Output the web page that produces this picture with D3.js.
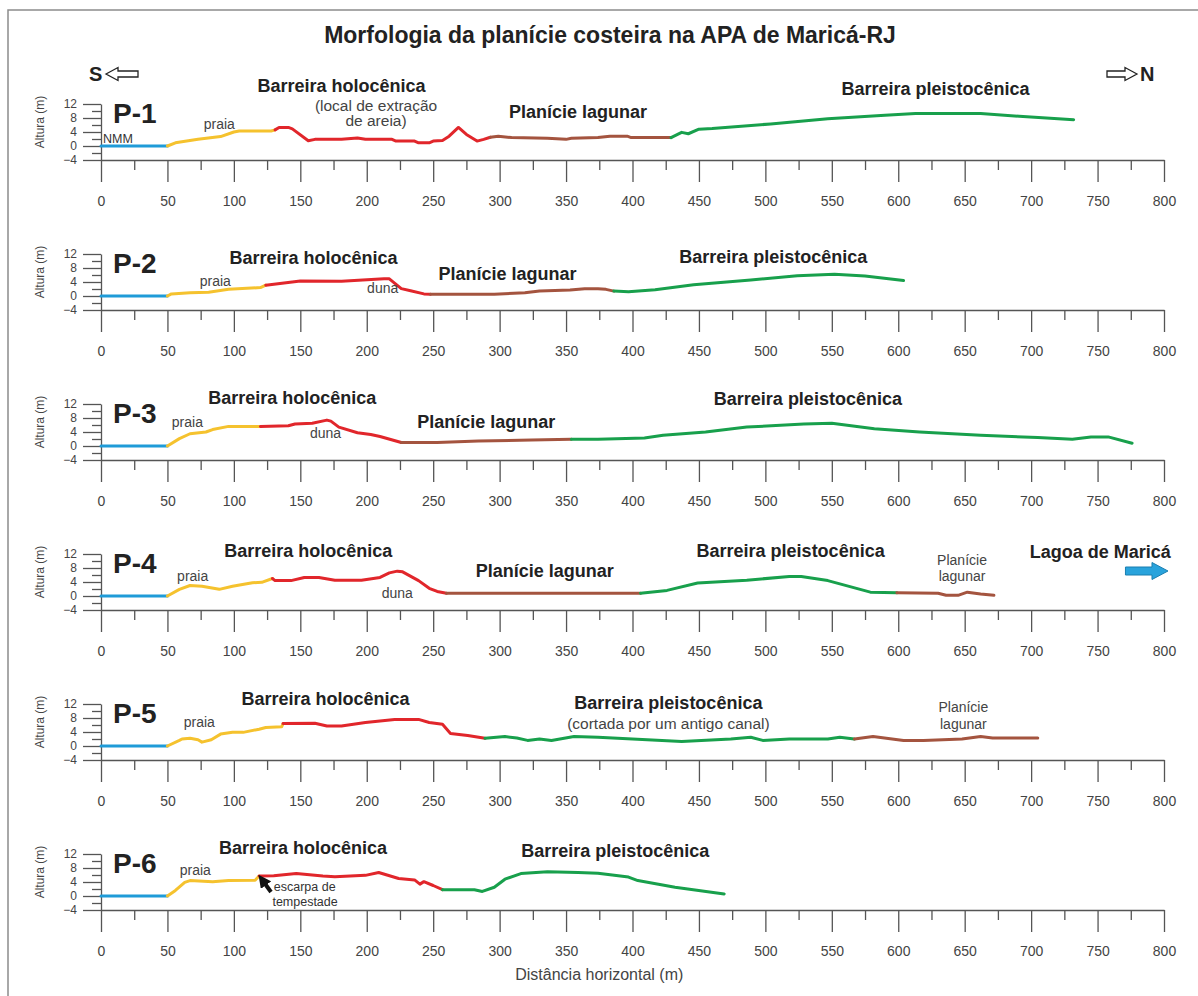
<!DOCTYPE html>
<html>
<head>
<meta charset="utf-8">
<script src="https://cdn.jsdelivr.net/npm/d3@7"></script>
<style>
body { margin: 0; background: #fff; }
svg { display: block; font-family: "Liberation Sans", Arial, Helvetica, sans-serif; }
</style>
</head>
<body>
<svg id="chart" width="1198" height="996"></svg>
<script>
// ---- data ----
const distTicks = d3.range(0, 801, 50);
const distMinor = d3.range(25, 800, 50);
const altTicks = [12, 8, 4, 0, -4];
const altMinor = [10, 6, 2, -2];
const profileNames = ["P-1", "P-2", "P-3", "P-4", "P-5", "P-6"];

const zoneColors = {
  nmm: "#1f9bd8",
  praia: "#f5c22e",
  holo: "#e1262b",
  lagunar: "#a4543f",
  pleisto: "#18a04c"
};

// [zone, [[distance m, altitude m], ...]]
const p1 = [
  ["nmm", [[0, 0], [50, 0]]],
  ["praia", [[50, 0], [56, 0.9], [73, 1.9], [90, 2.7], [100, 4.0], [104, 4.3], [128, 4.3], [131, 4.6]]],
  ["holo", [[131, 4.6], [134, 5.3], [141, 5.3], [144, 4.9], [156, 1.5], [161, 1.9], [181, 1.9], [193, 2.3], [199, 1.9],
            [219, 1.9], [222, 1.4], [236, 1.4], [239, 0.9], [247, 0.9], [250, 1.4], [257, 1.6], [262, 2.8], [269, 5.3],
            [275, 3.3], [283, 1.4], [288, 1.9], [293, 2.5]]],
  ["lagunar", [[293, 2.5], [299, 2.8], [309, 2.4], [336, 2.2], [350, 1.9], [354, 2.2], [374, 2.4], [383, 2.8], [396, 2.8],
               [399, 2.4], [429, 2.4]]],
  ["pleisto", [[429, 2.4], [437, 3.9], [442, 3.5], [450, 4.8], [460, 5.0], [504, 6.3], [547, 7.8], [590, 8.8], [613, 9.3],
               [662, 9.3], [691, 8.5], [732, 7.5]]]
];
const p2 = [
  ["nmm", [[0, 0], [50, 0]]],
  ["praia", [[50, 0], [53, 0.6], [67, 0.9], [81, 1.1], [96, 1.9], [120, 2.4], [124, 3.1]]],
  ["holo", [[124, 3.1], [150, 4.3], [181, 4.2], [213, 4.9], [217, 4.9], [226, 2.1], [233, 1.5], [243, 0.6], [248, 0.5]]],
  ["lagunar", [[248, 0.5], [296, 0.5], [319, 0.9], [330, 1.4], [353, 1.7], [364, 2.1], [374, 2.1], [380, 1.9], [386, 1.4]]],
  ["pleisto", [[386, 1.4], [397, 1.2], [417, 1.8], [446, 3.2], [489, 4.6], [524, 5.8], [552, 6.2], [575, 5.7], [604, 4.4]]]
];
const p3 = [
  ["nmm", [[0, 0], [50, 0]]],
  ["praia", [[50, 0], [59, 2.1], [67, 3.5], [79, 4.0], [84, 4.7], [96, 5.6], [120, 5.6]]],
  ["holo", [[120, 5.6], [141, 5.8], [146, 6.3], [159, 6.5], [170, 7.4], [173, 7.1], [179, 5.4], [193, 3.8], [203, 3.3],
            [210, 2.7], [226, 1.0]]],
  ["lagunar", [[226, 1.0], [253, 1.0], [284, 1.4], [324, 1.7], [354, 1.9]]],
  ["pleisto", [[354, 1.9], [374, 1.9], [409, 2.3], [423, 3.1], [455, 4.0], [486, 5.4], [529, 6.3], [550, 6.5], [582, 4.9],
               [616, 4.0], [662, 3.1], [705, 2.4], [731, 1.9], [745, 2.6], [758, 2.6], [776, 0.8]]]
];
const p4 = [
  ["nmm", [[0, 0], [50, 0]]],
  ["praia", [[50, 0], [59, 1.9], [67, 3.0], [76, 2.8], [89, 1.9], [99, 2.8], [114, 3.8], [121, 3.9], [129, 5.0]]],
  ["holo", [[129, 5.0], [131, 4.4], [143, 4.4], [153, 5.3], [164, 5.3], [176, 4.5], [196, 4.5], [210, 5.3], [217, 6.6],
            [223, 7.1], [227, 6.9], [239, 4.4], [247, 2.2], [253, 1.3], [260, 0.8]]],
  ["lagunar", [[260, 0.8], [406, 0.8]]],
  ["pleisto", [[406, 0.8], [426, 1.6], [449, 3.7], [486, 4.5], [518, 5.6], [527, 5.6], [547, 4.4], [579, 1.1], [599, 0.9]]],
  ["lagunar", [[599, 0.9], [630, 0.8], [636, 0.2], [645, 0.2], [652, 1.1], [662, 0.6], [672, 0.2]]]
];
const p5 = [
  ["nmm", [[0, 0], [50, 0]]],
  ["praia", [[50, 0], [59, 1.6], [61, 2.0], [67, 2.2], [73, 1.8], [76, 1.1], [83, 1.8], [90, 3.4], [99, 3.9], [107, 3.9],
             [119, 4.8], [124, 5.3], [136, 5.5], [137, 6.4]]],
  ["holo", [[137, 6.4], [161, 6.5], [170, 5.7], [181, 5.7], [199, 6.7], [221, 7.6], [239, 7.6], [247, 6.7], [257, 6.2],
            [263, 3.6], [276, 3.0], [289, 2.2]]],
  ["pleisto", [[289, 2.2], [304, 2.7], [313, 2.3], [321, 1.6], [330, 2.0], [339, 1.6], [356, 2.7], [374, 2.5], [400, 2.0],
               [437, 1.3], [474, 2.0], [489, 2.5], [498, 1.6], [518, 2.0], [547, 2.0], [556, 2.5], [567, 2.0]]],
  ["lagunar", [[567, 2.0], [581, 2.7], [604, 1.6], [619, 1.6], [648, 2.0], [662, 2.7], [671, 2.3], [705, 2.3]]]
];
const p6 = [
  ["nmm", [[0, 0], [50, 0]]],
  ["praia", [[50, 0], [56, 1.6], [63, 3.9], [67, 4.4], [84, 4.1], [96, 4.4], [116, 4.5], [119, 5.7]]],
  ["holo", [[119, 5.7], [130, 5.8], [147, 6.4], [167, 5.7], [176, 5.5], [199, 5.9], [209, 6.7], [224, 5.0], [236, 4.6],
            [240, 3.4], [243, 4.1], [250, 3.0], [257, 1.8]]],
  ["pleisto", [[257, 1.8], [281, 1.8], [287, 1.3], [296, 2.5], [304, 4.8], [316, 6.4], [336, 6.9], [359, 6.7], [374, 6.5],
               [397, 5.4], [404, 4.4], [432, 2.5], [469, 0.6]]]
];
const profiles = [p1, p2, p3, p4, p5, p6];

// ---- layout ----
const svg = d3.select("#chart");
const x = d3.scaleLinear().domain([0, 800]).range([101, 1164]);
const firstAxis = 160, panelStep = 150, panelHeight = 56;
const axisColor = "#555";

svg.append("rect")
  .attr("x", 8).attr("y", 10).attr("width", 1200).attr("height", 1000)
  .attr("fill", "none").attr("stroke", "#8c8c8c").attr("stroke-width", 1.5);

svg.append("text")
  .attr("x", 610).attr("y", 43).attr("text-anchor", "middle")
  .attr("font-size", 23).attr("font-weight", "bold").attr("fill", "#222")
  .text("Morfologia da planície costeira na APA de Maricá-RJ");

// hollow direction arrows
function hollowArrow(x0, x1, cy, dir) {
  const head = 12, hh = 6.5, sh = 3;
  const tip = dir < 0 ? x0 : x1, tail = dir < 0 ? x1 : x0;
  const hb = tip - dir * head;
  const pts = [[tip, cy], [hb, cy - hh], [hb, cy - sh], [tail, cy - sh], [tail, cy + sh], [hb, cy + sh], [hb, cy + hh]];
  svg.append("polygon").attr("points", pts.join(" "))
    .attr("fill", "#fff").attr("stroke", "#222").attr("stroke-width", 1.3);
}
svg.append("text").attr("x", 89).attr("y", 81).attr("font-size", 20).attr("font-weight", "bold").attr("fill", "#222").text("S");
hollowArrow(106, 138, 74, -1);
svg.append("text").attr("x", 1140).attr("y", 81).attr("font-size", 20).attr("font-weight", "bold").attr("fill", "#222").text("N");
hollowArrow(1107, 1137, 74, 1);

function styleAxis(g) {
  g.attr("font-family", null).attr("font-size", null);
  g.selectAll("line, path").attr("stroke", axisColor).attr("stroke-width", 1.3);
  g.selectAll("text").attr("fill", "#444");
}

const line = d3.line();

profiles.forEach((prof, i) => {
  const base = firstAxis + i * panelStep;
  const y = d3.scaleLinear().domain([-4, 12]).range([base, base - panelHeight]);
  const g = svg.append("g");

  // x axis, major and minor ticks
  g.append("g").attr("transform", `translate(0,${base})`)
    .call(d3.axisBottom(x).tickValues(distTicks).tickSize(22).tickPadding(14).tickSizeOuter(0).tickFormat(d3.format("d")))
    .call(styleAxis)
    .selectAll("text").attr("font-size", 14);
  g.append("g").attr("transform", `translate(0,${base})`)
    .call(d3.axisBottom(x).tickValues(distMinor).tickSize(10).tickFormat(""))
    .call(styleAxis)
    .select(".domain").remove();

  // y axis
  g.append("g").attr("transform", `translate(${x(0)},0)`)
    .call(d3.axisLeft(y).tickValues(altTicks).tickSize(18).tickPadding(6).tickSizeOuter(0))
    .call(styleAxis)
    .selectAll("text").attr("font-size", 12);
  g.append("g").attr("transform", `translate(${x(0)},0)`)
    .call(d3.axisLeft(y).tickValues(altMinor).tickSize(9).tickFormat(""))
    .call(styleAxis)
    .select(".domain").remove();

  g.append("text")
    .attr("transform", `translate(44,${base - 38}) rotate(-90)`)
    .attr("text-anchor", "middle").attr("font-size", 12).attr("fill", "#444")
    .text("Altura (m)");

  g.append("text")
    .attr("x", 113).attr("y", base - 37)
    .attr("font-size", 28).attr("font-weight", "bold").attr("fill", "#222")
    .text(profileNames[i]);

  line.x(d => x(d[0])).y(d => y(d[1]));
  prof.forEach(([zone, pts]) => {
    g.append("path").attr("d", line(pts))
      .attr("fill", "none").attr("stroke", zoneColors[zone])
      .attr("stroke-width", 3).attr("stroke-linejoin", "round").attr("stroke-linecap", "round");
  });
});

// ---- annotations: [panel, text, distance m, offset above axis px, kind, anchor]
const notes = [
  [0, "Barreira holocênica", 181, 68, "big"],
  [0, "(local de extração", 207, 49, "paren"],
  [0, "de areia)", 207, 34, "paren"],
  [0, "Planície lagunar", 359, 42, "big"],
  [0, "Barreira pleistocênica", 628, 65, "big"],
  [0, "praia", 89, 31, "small"],
  [0, "NMM", 1.5, 17, "tiny", "start"],
  [1, "Barreira holocênica", 160, 46, "big"],
  [1, "praia", 86, 24, "small"],
  [1, "duna", 212, 17, "small"],
  [1, "Planície lagunar", 306, 30, "big"],
  [1, "Barreira pleistocênica", 506, 47, "big"],
  [2, "Barreira holocênica", 144, 56, "big"],
  [2, "praia", 65, 33, "small"],
  [2, "duna", 169, 22, "small"],
  [2, "Planície lagunar", 290, 32, "big"],
  [2, "Barreira pleistocênica", 532, 55, "big"],
  [3, "Barreira holocênica", 156, 53, "big"],
  [3, "praia", 69, 29, "small"],
  [3, "duna", 223, 12, "small"],
  [3, "Planície lagunar", 334, 33, "big"],
  [3, "Barreira pleistocênica", 519, 53, "big"],
  [3, "Planície", 648, 45, "small"],
  [3, "lagunar", 648, 29, "small"],
  [3, "Lagoa de Maricá", 752, 52, "big"],
  [4, "Barreira holocênica", 169, 55, "big"],
  [4, "praia", 74, 33, "small"],
  [4, "Barreira pleistocênica", 427, 51, "big"],
  [4, "(cortada por um antigo canal)", 427, 31, "paren"],
  [4, "Planície", 649, 48, "small"],
  [4, "lagunar", 649, 31, "small"],
  [5, "Barreira holocênica", 152, 56, "big"],
  [5, "praia", 71, 35, "small"],
  [5, "Barreira pleistocênica", 387, 53, "big"],
  [5, "escarpa de", 130, 19, "tiny", "start"],
  [5, "tempestade", 129, 4, "tiny", "start"]
];
const noteStyle = {
  big: { size: 18, weight: "bold", fill: "#222" },
  paren: { size: 15.5, weight: "normal", fill: "#444" },
  small: { size: 14, weight: "normal", fill: "#444" },
  tiny: { size: 12.5, weight: "normal", fill: "#333" }
};
notes.forEach(([p, txt, d, off, kind, anchor]) => {
  const s = noteStyle[kind];
  svg.append("text")
    .attr("x", x(d)).attr("y", firstAxis + p * panelStep - off)
    .attr("text-anchor", anchor || "middle")
    .attr("font-size", s.size).attr("font-weight", s.weight).attr("fill", s.fill)
    .text(txt);
});

// blue arrow towards the lagoon (P-4)
{
  const cy = firstAxis + 3 * panelStep - 39, x0 = x(771), x1 = x(803), hb = x1 - 16;
  const pts = [[x1, cy], [hb, cy - 8.5], [hb, cy - 4], [x0, cy - 4], [x0, cy + 4], [hb, cy + 4], [hb, cy + 8.5]];
  svg.append("polygon").attr("points", pts.join(" "))
    .attr("fill", "#29a3dc").attr("stroke", "#1b7fb0").attr("stroke-width", 1);
}

// black arrow at the storm scarp (P-6)
{
  const base = firstAxis + 5 * panelStep;
  svg.append("defs").append("marker")
    .attr("id", "head").attr("viewBox", "0 0 10 10").attr("refX", 4).attr("refY", 5)
    .attr("markerWidth", 3.2).attr("markerHeight", 3.2).attr("orient", "auto")
    .append("path").attr("d", "M0,0L10,5L0,10z").attr("fill", "#111");
  svg.append("line")
    .attr("x1", 271).attr("y1", base - 18).attr("x2", 263).attr("y2", base - 29)
    .attr("stroke", "#111").attr("stroke-width", 4).attr("marker-end", "url(#head)");
}

svg.append("text")
  .attr("x", x(375)).attr("y", 980).attr("text-anchor", "middle")
  .attr("font-size", 16).attr("fill", "#444")
  .text("Distância horizontal (m)");
</script>
</body>
</html>
